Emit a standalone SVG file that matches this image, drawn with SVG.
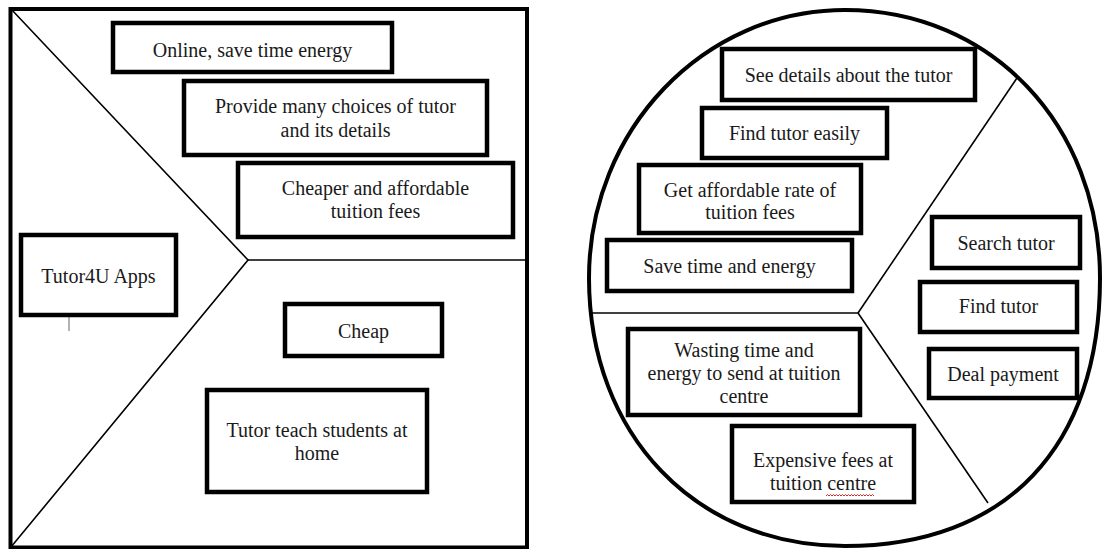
<svg xmlns="http://www.w3.org/2000/svg" width="1102" height="549" viewBox="0 0 1102 549">
<style>
.frame{fill:none;stroke:#000;stroke-width:4}
.box{fill:#fff;stroke:#000;stroke-width:4.5}
.ln{fill:none;stroke:#000;stroke-width:1.6}
.t{font-family:"Liberation Serif","Times New Roman",serif;font-size:20px;text-anchor:middle;fill:#1a1a1a}
</style>
<rect width="1102" height="549" fill="#fff"/>
<g id="frames">
<rect id="square" class="frame" x="10.5" y="9" width="516.5" height="538.5"/>
<path id="circle" class="frame" d="M1100 278 C1100 446.8 1006.3 546 845 546 C695.5 546 589 434.5 589 278 C589 130 703.6 10 845 10 C990.9 10 1100 125.2 1100 278 Z"/>
</g>
<g id="connectors">
<polyline class="ln" points="11,9 248,260 11,547"/>
<line class="ln" x1="248" y1="260" x2="527" y2="260"/>
<line class="ln" x1="590" y1="313" x2="858" y2="313"/>
<line class="ln" x1="858" y1="313" x2="1017" y2="78"/>
<line class="ln" x1="858" y1="313" x2="988" y2="503"/>
<line x1="69" y1="308" x2="69" y2="331" stroke="#666" stroke-width="1"/>
</g>
<g id="n-online"><rect class="box" x="113" y="23" width="279" height="49"/><text class="t" x="252.5" y="57">Online, save time energy</text></g>
<g id="n-provide"><rect class="box" x="184" y="81" width="303" height="74"/><text class="t" x="335.5" y="113">Provide many choices of tutor</text><text class="t" x="335.5" y="137">and its details</text></g>
<g id="n-cheaper"><rect class="box" x="238" y="163" width="275" height="74"/><text class="t" x="375.5" y="195">Cheaper and affordable</text><text class="t" x="375.5" y="218">tuition fees</text></g>
<g id="n-app"><rect class="box" x="21" y="235" width="155" height="80"/><text class="t" x="98.5" y="283">Tutor4U Apps</text></g>
<g id="n-cheap"><rect class="box" x="285" y="304" width="157" height="52"/><text class="t" x="363.5" y="338">Cheap</text></g>
<g id="n-home"><rect class="box" x="207" y="390" width="220" height="102"/><text class="t" x="317" y="437">Tutor teach students at</text><text class="t" x="317" y="460">home</text></g>
<g id="n-details"><rect class="box" x="722" y="49" width="253" height="51"/><text class="t" x="848.5" y="82">See details about the tutor</text></g>
<g id="n-easily"><rect class="box" x="702" y="108" width="185" height="50"/><text class="t" x="794.5" y="140">Find tutor easily</text></g>
<g id="n-rate"><rect class="box" x="639" y="165" width="222" height="68"/><text class="t" x="750" y="197">Get affordable rate of</text><text class="t" x="750" y="219">tuition fees</text></g>
<g id="n-save"><rect class="box" x="607" y="240" width="245" height="51"/><text class="t" x="729.5" y="273">Save time and energy</text></g>
<g id="n-wasting"><rect class="box" x="628" y="329" width="232" height="86"/><text class="t" x="744" y="357">Wasting time and</text><text class="t" x="744" y="380">energy to send at tuition</text><text class="t" x="744" y="403">centre</text></g>
<g id="n-expensive"><rect class="box" x="732" y="426" width="182" height="76"/><text class="t" x="823" y="467">Expensive fees at</text><text class="t" x="823" y="490">tuition centre</text>
<path d="M826 496 l1.5 -1.5 l1.5 1.5 l1.5 -1.5 l1.5 1.5 l1.5 -1.5 l1.5 1.5 l1.5 -1.5 l1.5 1.5 l1.5 -1.5 l1.5 1.5 l1.5 -1.5 l1.5 1.5 l1.5 -1.5 l1.5 1.5 l1.5 -1.5 l1.5 1.5 l1.5 -1.5 l1.5 1.5 l1.5 -1.5 l1.5 1.5 l1.5 -1.5 l1.5 1.5 l1.5 -1.5 l1.5 1.5 l1.5 -1.5 l1.5 1.5 l1.5 -1.5 l1.5 1.5 l1.5 -1.5 l1.5 1.5 l1.5 -1.5 l1.5 1.5" fill="none" stroke="#d42a2a" stroke-width="1"/></g>
<g id="n-search"><rect class="box" x="932" y="217" width="148" height="51"/><text class="t" x="1006" y="250">Search tutor</text></g>
<g id="n-find"><rect class="box" x="920" y="282" width="157" height="50"/><text class="t" x="998.5" y="313">Find tutor</text></g>
<g id="n-deal"><rect class="box" x="929" y="349" width="148" height="49"/><text class="t" x="1003" y="381">Deal payment</text></g>
</svg>
